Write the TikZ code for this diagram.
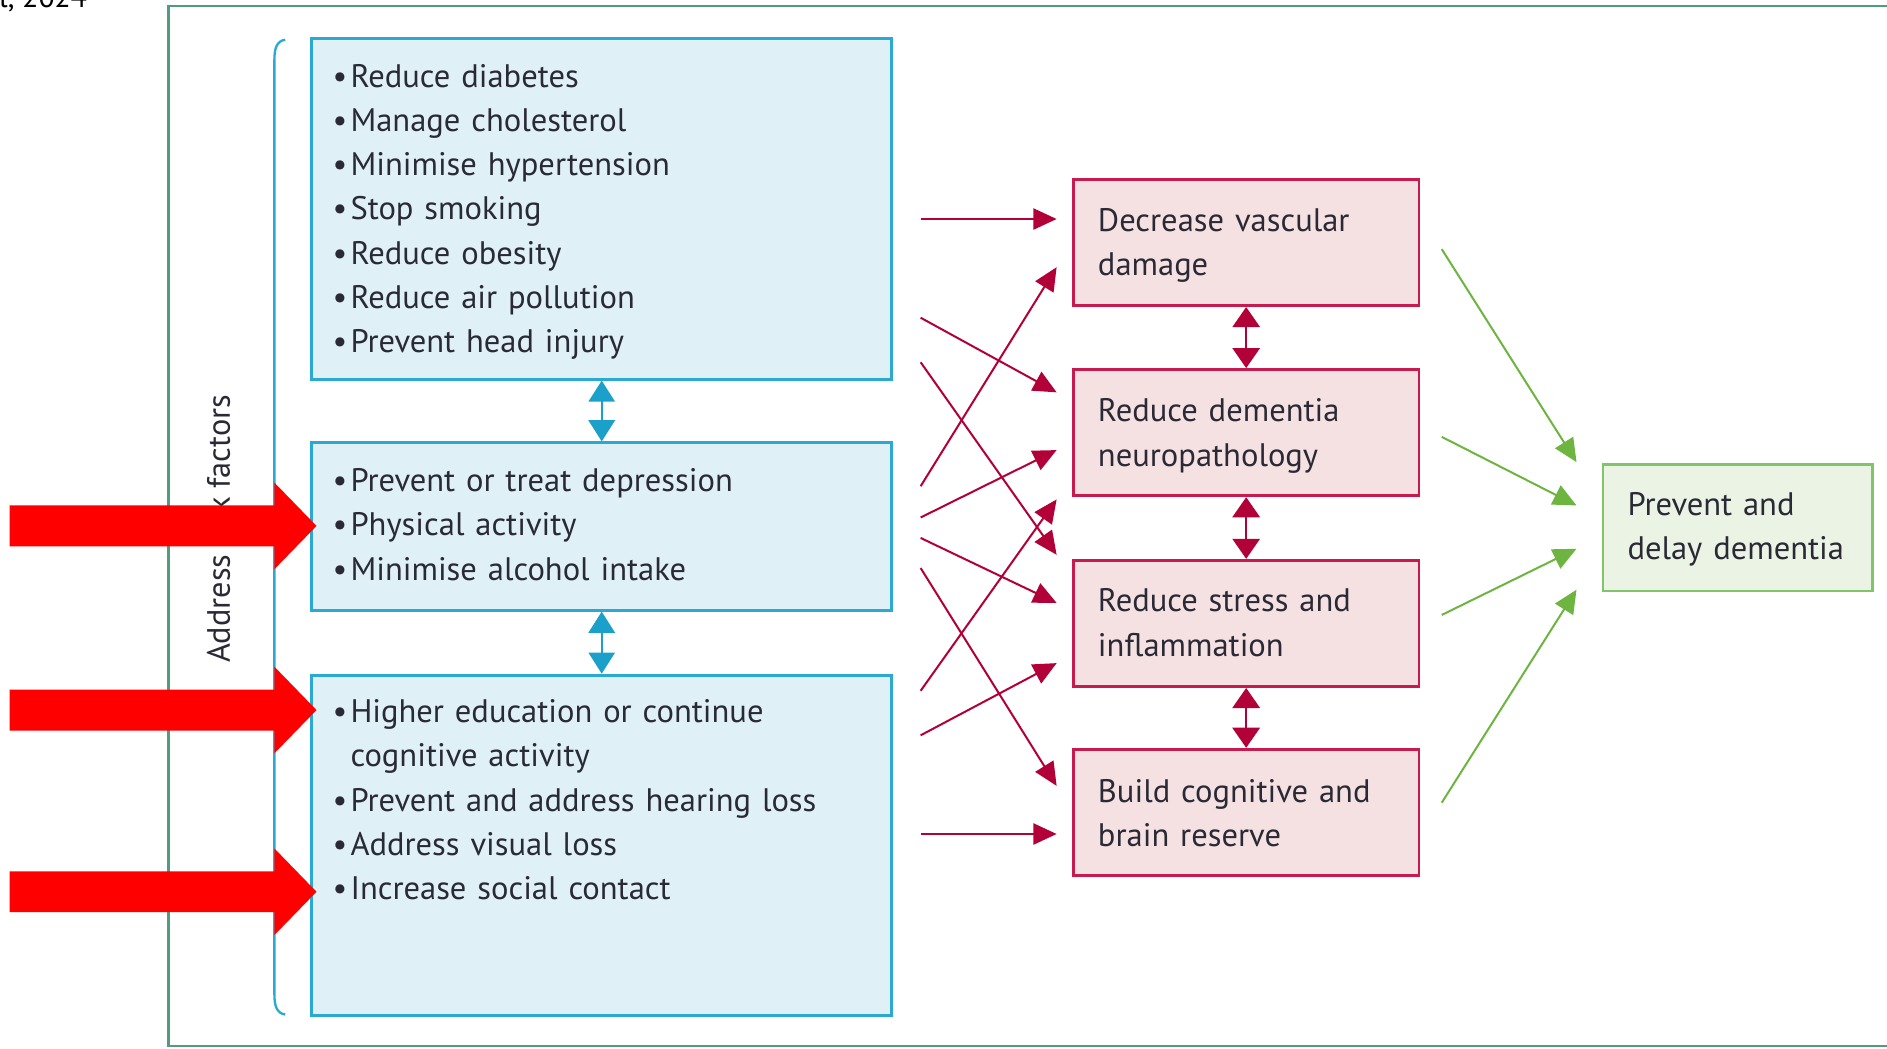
\documentclass[tikz,border=0pt]{standalone}
\usepackage{fontspec}
\setmainfont{PT Sans}
\usetikzlibrary{arrows.meta}
\definecolor{bluefill}{HTML}{DFF0F7}
\definecolor{bluedraw}{HTML}{2AA9D3}
\definecolor{bluearr}{HTML}{1BA1C9}
\definecolor{redfill}{HTML}{F5E1E1}
\definecolor{reddraw}{HTML}{C81A4F}
\definecolor{redarr}{HTML}{B20038}
\definecolor{greenfill}{HTML}{EBF4E4}
\definecolor{greendraw}{HTML}{82C468}
\definecolor{greenarr}{HTML}{6DB440}
\definecolor{framecol}{HTML}{4F9D7F}
\definecolor{textcol}{HTML}{2A2A36}
\definecolor{bigred}{HTML}{FF0000}
\newcommand\mybullet{\makebox[8.5pt][l]{•}}
\newcommand\mybulletgap{\hspace*{8.5pt}}
\begin{document}
\begin{tikzpicture}[x=0.2mm,y=-0.2mm,
  bluebox/.style={draw=bluedraw, fill=bluefill, line width=1.4pt, inner sep=0pt, minimum width=96.4mm},
  redbox/.style={draw=reddraw, fill=redfill, line width=1.3pt, inner sep=0pt, minimum width=57.4mm, minimum height=21mm},
  greenbox/.style={draw=greendraw, fill=greenfill, line width=1.3pt, inner sep=0pt, minimum width=44.8mm, minimum height=21mm},
  txt/.style={anchor=base west, inner sep=0pt, align=left, text width=110mm, text=textcol, font=\fontsize{15.4}{20.9}\selectfont},
  redarrow/.style={draw=redarr, line width=0.95pt, -{Triangle[length=11pt,width=10pt]}},
  greenarrow/.style={draw=greenarr, line width=0.95pt, -{Triangle[length=11pt,width=10pt]}},
  bluedouble/.style={draw=bluearr, line width=0.8pt, {Triangle[length=10pt,width=12.5pt]}-{Triangle[length=10pt,width=12.5pt]}},
  reddouble/.style={draw=redarr, line width=0.8pt, {Triangle[length=9.5pt,width=13pt]}-{Triangle[length=9.5pt,width=13pt]}},
  bigarrow/.style={fill=bigred, draw=none}]
\useasboundingbox (0,0) rectangle (1568,871);

% citation fragment (cut off at the top edge, as in the reference)
\node[anchor=base west, inner sep=0pt, font=\fontsize{14}{16}\selectfont] (cite) at (-1,6) {l, 2024};

% outer frame
\draw[framecol, line width=1pt] (1575,5) -- (140,5) -- (140,869) -- (1575,869);

% side label and bracket
\node[rotate=90, anchor=base, inner sep=0pt, text=textcol, font=\fontsize{15.3}{18}\selectfont] (side) at (191,439.5) {Address risk factors};
\draw[bluedraw, line width=1.1pt] (237,33) .. controls (230,34) and (228,40) .. (228,50) -- (228,826) .. controls (228,836) and (230,842) .. (237,843);

% left boxes
\node[bluebox, minimum height=56.6mm] (b1) at (500,173.5) {};
\node[bluebox, minimum height=27.8mm] (b2) at (500,437.5) {};
\node[bluebox, minimum height=56.6mm] (b3) at (500,702.5) {};

\node[txt] (t1) at (276,72.5) {\mybullet Reduce diabetes\\ \mybullet Manage cholesterol\\ \mybullet Minimise hypertension\\ \mybullet Stop smoking\\ \mybullet Reduce obesity\\ \mybullet Reduce air pollution\\ \mybullet Prevent head injury};
\node[txt] (t2) at (276,408.5) {\mybullet Prevent or treat depression\\ \mybullet Physical activity\\ \mybullet Minimise alcohol intake};
\node[txt] (t3) at (276,600.5) {\mybullet Higher education or continue\\ \mybulletgap cognitive activity\\ \mybullet Prevent and address hearing loss\\ \mybullet Address visual loss\\ \mybullet Increase social contact};

\draw[bluedouble] (b1.south) -- (b2.north);
\draw[bluedouble] (b2.south) -- (b3.north);

% middle boxes
\node[redbox] (r1) at (1035.5,201.5) {};
\node[redbox] (r2) at (1035.5,359.5) {};
\node[redbox] (r3) at (1035.5,518) {};
\node[redbox] (r4) at (1035.5,675) {};

\node[txt] (tr1) at (912,192.5) {Decrease vascular\\damage};
\node[txt] (tr2) at (912,350.5) {Reduce dementia\\neuropathology};
\node[txt] (tr3) at (912,508.5) {Reduce stress and\\inflammation};
\node[txt] (tr4) at (912,666.5) {Build cognitive and\\brain reserve};

\draw[reddouble] (r1.south) -- (r2.north);
\draw[reddouble] (r2.south) -- (r3.north);
\draw[reddouble] (r3.south) -- (r4.north);

% right box
\node[greenbox] (g) at (1444,438.5) {};
\node[txt] (tg) at (1352,428.5) {Prevent and\\delay dementia};

% crossing red arrows
\coordinate (a0) at (765,182); \coordinate (a1) at (878,182);
\coordinate (b0) at (765,264); \coordinate (bb1) at (878,326);
\coordinate (c0) at (765,301); \coordinate (c1) at (878,461);
\coordinate (d0) at (765,404); \coordinate (d1) at (878,222);
\coordinate (e0) at (765,430); \coordinate (e1) at (878,374);
\coordinate (f0) at (765,447); \coordinate (f1) at (878,501);
\coordinate (g0) at (765,574); \coordinate (gg1) at (878,415);
\coordinate (h0) at (765,472); \coordinate (h1) at (878,653);
\coordinate (i0) at (765,611); \coordinate (i1) at (878,551);
\coordinate (j0) at (765,693); \coordinate (j1) at (878,693);
\draw[redarrow] (a0) -- (a1);
\draw[redarrow] (b0) -- (bb1);
\draw[redarrow] (c0) -- (c1);
\draw[redarrow] (d0) -- (d1);
\draw[redarrow] (e0) -- (e1);
\draw[redarrow] (f0) -- (f1);
\draw[redarrow] (g0) -- (gg1);
\draw[redarrow] (h0) -- (h1);
\draw[redarrow] (i0) -- (i1);
\draw[redarrow] (j0) -- (j1);

% green arrows
\coordinate (k0) at (1198,207); \coordinate (k1) at (1310,384);
\coordinate (l0) at (1198,363); \coordinate (l1) at (1310,420);
\coordinate (m0) at (1198,511); \coordinate (m1) at (1310,456);
\coordinate (n0) at (1198,667); \coordinate (n1) at (1310,490);
\draw[greenarrow] (k0) -- (k1);
\draw[greenarrow] (l0) -- (l1);
\draw[greenarrow] (m0) -- (m1);
\draw[greenarrow] (n0) -- (n1);

% big red annotation arrows
\fill[bigarrow] (8,420) -- (228,420) -- (228,401) -- (263,437) -- (228,473) -- (228,454) -- (8,454) -- cycle;
\fill[bigarrow] (8,573) -- (228,573) -- (228,554) -- (263,590) -- (228,626) -- (228,607) -- (8,607) -- cycle;
\fill[bigarrow] (8,724) -- (228,724) -- (228,705) -- (263,741) -- (228,777) -- (228,758) -- (8,758) -- cycle;
\end{tikzpicture}
\end{document}
